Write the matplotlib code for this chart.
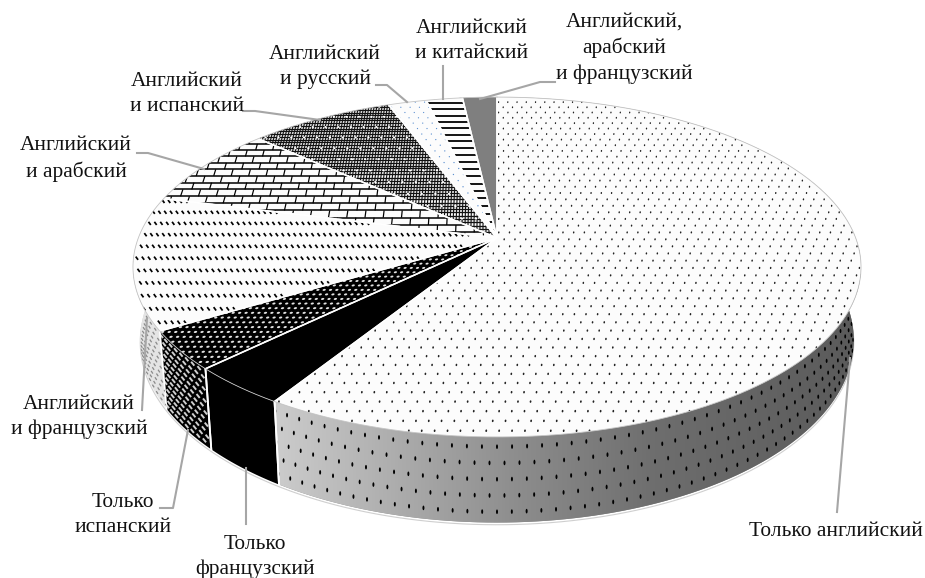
#!/usr/bin/env python3
import numpy as np
import matplotlib
matplotlib.use('Agg')
import matplotlib.pyplot as plt
from matplotlib.collections import LineCollection, EllipseCollection
from matplotlib.colors import LinearSegmentedColormap
from matplotlib.patches import Polygon

plt.rcParams['font.family'] = ['Liberation Serif', 'DejaVu Serif']

# clockwise from 12 o'clock
labels = ['Только английский', 'Только\nфранцузский', 'Только\nиспанский',
          'Английский\nи французский', 'Английский\nи арабский',
          'Английский\nи испанский', 'Английский\nи русский',
          'Английский\nи китайский', 'Английский,\nарабский\nи французский']
shares = [58.9, 3.8, 3.7, 12.6, 7.7, 7.6, 2.0, 1.9, 1.8]

label_pos = [(836, 531), (255, 557), (123, 515), (79, 417), (76, 159),
             (187, 94), (325, 67), (472, 41), (624, 48)]
leaders = [[(837, 512), (850, 358)],
           [(246, 524), (246, 468)],
           [(160, 508), (173, 508), (188, 430)],
           [(142, 410), (147, 318)],
           [(137, 153), (148, 153), (204, 169)],
           [(243, 111), (255, 111), (320, 120)],
           [(376, 85), (387, 85), (407, 102)],
           [(443, 66), (443, 99)],
           [(555, 82), (540, 82), (480, 99)]]

# perspective of the disc, pixels
X0, Y0 = 497, 238
A, B, K = 358.7, 165.0, 0.1706
DEPTH, SHRINK = 71.0, 0.98
Z_SIDE = 2.2


def top_pt(u, v):
    d = 1 - K * v
    return X0 + A * u / d, Y0 + B * v / d


def bot_pt(u, v):
    x, y = top_pt(u, v)
    return X0 + SHRINK * (x - X0), y + DEPTH / (1 - K * v)


def rim(t):
    return np.sin(t), -np.cos(t)


def grid(du, dv, stagger=True):
    pts = []
    for i, v in enumerate(np.arange(-1.0, 1.0, dv)):
        off = du / 2 if stagger and i % 2 else 0
        for u in np.arange(-1.0 + off, 1.0, du):
            pts.append((u, v))
    pts = np.array(pts)
    return pts[pts[:, 0]**2 + pts[:, 1]**2 < 1.0]


fig = plt.figure(figsize=(9.25, 5.78), dpi=100)
ax = fig.add_axes([0, 0, 1, 1])
ax.set_xlim(0, 925)
ax.set_ylim(578, 0)
ax.axis('off')


def dots(clip, xy, scale, w, h, color, angle=8, z=3):
    keep = clip.get_path().contains_points(xy)
    if not keep.any():
        return
    col = EllipseCollection(w * scale[keep], h * scale[keep], np.full(keep.sum(), angle),
                            units='xy', offsets=xy[keep], offset_transform=ax.transData,
                            facecolors=color, edgecolors='none', zorder=z)
    ax.add_collection(col)
    col.set_clip_path(clip)


def dashes(clip, xy, scale, dx, dy, color, lw, z=3):
    keep = clip.get_path().contains_points(xy)
    segs = [[(x - dx * s, y - dy * s), (x + dx * s, y + dy * s)]
            for (x, y), s in zip(xy[keep], scale[keep])]
    col = LineCollection(segs, colors=color, linewidths=lw, zorder=z, capstyle='butt')
    ax.add_collection(col)
    col.set_clip_path(clip)


def top_grid(du, dv, stagger=True):
    g = grid(du, dv, stagger)
    x, y = top_pt(g[:, 0], g[:, 1])
    return np.column_stack([x, y]), 0.83 / (1 - K * g[:, 1])


def hlines(clip, dv, color, lw):
    segs = []
    for v in np.arange(-1.0, 1.0, dv):
        x, y = top_pt(np.array([-1.0, 1.0]), np.array([v, v]))
        segs.append([(x[0], y[0]), (x[1], y[1])])
    col = LineCollection(segs, colors=color, linewidths=lw, zorder=3)
    ax.add_collection(col)
    col.set_clip_path(clip)


def vlines(clip, du, color, lw):
    segs = []
    for u in np.arange(-1.0, 1.0, du):
        x, y = top_pt(np.array([u, u]), np.array([-1.0, 1.0]))
        segs.append([(x[0], y[0]), (x[1], y[1])])
    col = LineCollection(segs, colors=color, linewidths=lw, zorder=3)
    ax.add_collection(col)
    col.set_clip_path(clip)


def bricks(clip, dv, du, lw):
    hlines(clip, dv, 'black', lw)
    segs = []
    for i, v in enumerate(np.arange(-1.0, 1.0, dv)):
        for u in np.arange(-1.0 + (du / 2 if i % 2 else 0), 1.0, du):
            x, y = top_pt(np.array([u, u]), np.array([v, v + dv]))
            segs.append([(x[0], y[0]), (x[1], y[1])])
    col = LineCollection(segs, colors='black', linewidths=lw * 0.8, zorder=3)
    ax.add_collection(col)
    col.set_clip_path(clip)


def side_grid(t0, t1, dt, dh):
    pts, sc = [], []
    for i, h in enumerate(np.arange(dh * 0.6, 1.0, dh)):
        off = dt / 2 if i % 2 else 0
        for t in np.arange(t0 + off, t1, dt):
            u, v = rim(t)
            xt, yt = top_pt(u, v)
            xb, yb = bot_pt(u, v)
            pts.append((xt + h * (xb - xt), yt + h * (yb - yt)))
            sc.append(0.83 / (1 - K * v))
    return np.array(pts), np.array(sc)


edges = np.radians(np.concatenate([[0], np.cumsum(shares)]) * 3.6)
side_fill = ['#888888', 'black', 'black', '#e4e4e4', 'white', 'white', 'white', 'white', 'white']
gray_map = LinearSegmentedColormap.from_list(
    'side', [(0.0, '#5a5a5a'), (0.35, '#6e6e6e'), (0.6, '#8f8f8f'), (1.0, '#cccccc')])

# side walls first, the discs cover what is hidden
for i, (t0, t1) in enumerate(zip(edges[:-1], edges[1:])):
    t = np.linspace(t0, t1, 160)
    u, v = rim(t)
    top = np.column_stack(top_pt(u, v))
    bot = np.column_stack(bot_pt(u, v))
    clip = Polygon(np.vstack([top, bot[::-1]]), closed=True, facecolor=side_fill[i],
                   edgecolor='none', zorder=1)
    ax.add_patch(clip)
    if i == 0:
        im = ax.imshow(np.linspace(1, 0, 256)[None, :], cmap=gray_map, vmin=0, vmax=1,
                       extent=(275, 860, 540, 250), aspect='auto', zorder=2,
                       interpolation='bilinear')
        im.set_clip_path(clip)
        xy, sc = side_grid(t0, t1, np.radians(2.0), 0.19)
        dots(clip, xy, sc, 2.0, 4.6, 'black', angle=0, z=Z_SIDE)
    elif i == 2:
        xy, sc = side_grid(t0, t1, np.radians(1.6), 0.075)
        dashes(clip, xy, sc, 1.7, 2.1, '#cfcfcf', 1.4, z=Z_SIDE)
    elif i == 3:
        xy, sc = side_grid(t0, t1, np.radians(2.0), 0.09)
        dashes(clip, xy, sc, 1.0, 1.5, '#8a8a8a', 0.9, z=Z_SIDE)
    if i in (0, 1, 2):
        ax.plot([top[0, 0], bot[0, 0]], [top[0, 1], bot[0, 1]], color='white', lw=1.3, zorder=Z_SIDE)
        ax.plot([top[-1, 0], bot[-1, 0]], [top[-1, 1], bot[-1, 1]], color='white', lw=1.3, zorder=Z_SIDE)

t = np.linspace(0, 2 * np.pi, 720)
u, v = rim(t)
bx, by = bot_pt(u, v)
ax.plot(bx, by + 2.2, color='#cfcfcf', lw=0.8, zorder=0)

# top faces
face = ['#fcfcfc'] * 9
face[1] = face[2] = 'black'
face[8] = '#7f7f7f'
for i, (t0, t1) in enumerate(zip(edges[:-1], edges[1:])):
    u, v = rim(np.linspace(t0, t1, 160))
    x, y = top_pt(u, v)
    clip = Polygon(np.column_stack([np.r_[X0, x], np.r_[Y0, y]]), closed=True,
                   facecolor=face[i], edgecolor='none', zorder=2.5)
    ax.add_patch(clip)
    if i == 0:
        xy, sc = top_grid(0.030, 0.042)
        dots(clip, xy, sc, 1.8, 2.6, '#222222')
    elif i == 2:
        xy, sc = top_grid(0.0167, 0.0245)
        dots(clip, xy, sc, 3.8, 2.2, '#e2e2e2', angle=-15)
    elif i == 3:
        xy, sc = top_grid(0.0167, 0.070, stagger=False)
        dashes(clip, xy, sc, 1.4, 1.9, 'black', 1.25)
    elif i == 4:
        bricks(clip, 0.046, 0.052, 1.1)
    elif i == 5:
        hlines(clip, 0.021, '#111111', 0.95)
        vlines(clip, 0.0085, '#111111', 0.8)
        xy, sc = top_grid(0.040, 0.080)
        dots(clip, xy, sc, 3.2, 2.6, 'white')
    elif i == 6:
        xy, sc = top_grid(0.030, 0.042)
        dots(clip, xy, sc, 1.7, 1.7, '#5b8fd0')
    elif i == 7:
        hlines(clip, 0.050, 'black', 1.3)
    ax.plot(np.r_[x[0], X0, x[-1]], np.r_[y[0], Y0, y[-1]], color='white', lw=1.1, zorder=4)

u, v = rim(t)
x, y = top_pt(u, v)
ax.plot(x, y, color='#c4c4c4', lw=0.6, zorder=4.5)

for pts in leaders:
    pts = np.array(pts)
    ax.plot(pts[:, 0], pts[:, 1], color='#a6a6a6', lw=1.5, zorder=6, solid_joinstyle='round')

for name, (x, y) in zip(labels, label_pos):
    ax.text(x, y, name, ha='center', va='center', fontsize=15.4, color='#111111',
            linespacing=1.42, zorder=7)

ax.set_xlim(0, 925)
ax.set_ylim(578, 0)
fig.savefig('out.png', dpi=100)
